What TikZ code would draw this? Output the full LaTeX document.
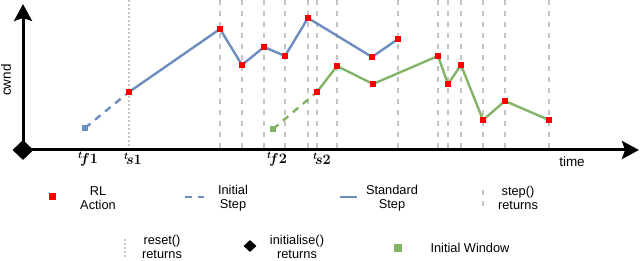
\documentclass[tikz,border=0pt]{standalone}
\usepackage{fontspec}
\setmainfont{Liberation Sans}
\usetikzlibrary{arrows.meta,shapes.geometric}
\definecolor{cblue}{HTML}{6C8EBF}
\definecolor{cgreen}{HTML}{82B366}
\definecolor{cgray}{HTML}{C4C4C4}
\definecolor{cdot}{HTML}{C8C8C8}
\begin{document}
\begin{tikzpicture}[x=1pt,y=-1pt,
  steptick/.style={cgray, line width=2.2pt, dash pattern=on 5pt off 6pt},
  resettick/.style={cdot, line width=2pt, dash pattern=on 2pt off 2pt},
  act/.style={rectangle, fill=red, minimum size=6.5pt, inner sep=0pt, draw=none},
  bstart/.style={rectangle, fill=cblue, minimum size=5.5pt, inner sep=0pt, draw=none},
  gstart/.style={rectangle, fill=cgreen, minimum size=5.5pt, inner sep=0pt, draw=none},
  bline/.style={cblue, line width=2.4pt},
  gline/.style={cgreen, line width=2.4pt},
  bdash/.style={cblue, line width=2.4pt, dash pattern=on 7pt off 6pt},
  gdash/.style={cgreen, line width=2.4pt, dash pattern=on 7pt off 6pt},
  axis/.style={line width=3pt, -{Stealth[length=17pt,width=18pt,inset=3pt]}},
  lbl/.style={font=\fontsize{12.8}{14.5}\selectfont, align=center, inner sep=0pt},
  tl/.style={font=\fontsize{14}{14}\selectfont\boldmath, inner sep=0pt},
  odiam/.style={diamond, fill=black, inner sep=0pt},
]
\useasboundingbox (0,0) rectangle (640,261);

% vertical step() lines
\foreach \x in {220,242,264,285,308,317,337,398,438,448,461,483,505,549}
  \draw[steptick] (\x,0) -- (\x,150);
% reset() line
\draw[resettick] (129,0) -- (129,150);

% axes
\coordinate (O) at (23,150);
\coordinate (ytip) at (23,4);
\coordinate (xtip) at (639,150);
\draw[axis] (O) -- (ytip);
\draw[axis] (O) -- (xtip);
\node[odiam, minimum width=21pt, minimum height=20pt] (orig) at (O) {};

% blue episode
\coordinate (b0) at (85,128);
\coordinate (b1) at (129,92);
\coordinate (b2) at (220,29);
\coordinate (b3) at (242,65);
\coordinate (b4) at (264,47);
\coordinate (b5) at (285,56);
\coordinate (b6) at (308,18);
\coordinate (b7) at (372,57);
\coordinate (b8) at (398,39);
\draw[bdash] (b0) -- (b1);
\draw[bline, line join=round] (b1) -- (b2) -- (b3) -- (b4) -- (b5) -- (b6) -- (b7) -- (b8);

% green episode
\coordinate (g0) at (273,129);
\coordinate (g1) at (317,92);
\coordinate (g2) at (337,66);
\coordinate (g3) at (373,84);
\coordinate (g4) at (438,56);
\coordinate (g5) at (448,84);
\coordinate (g6) at (461,65);
\coordinate (g7) at (483,120);
\coordinate (g8) at (505,101);
\coordinate (g9) at (549,120);
\draw[gdash] (g0) -- (g1);
\draw[gline, line join=round] (g1) -- (g2) -- (g3) -- (g4) -- (g5) -- (g6) -- (g7) -- (g8) -- (g9);

\node[bstart] (mb0) at (b0) {};
\node[gstart] (mg0) at (g0) {};
\foreach \p in {b1,b2,b3,b4,b5,b6,b7,b8,g1,g2,g3,g4,g5,g6,g7,g8,g9}
  \node[act] (m\p) at (\p) {};

% axis labels
\node[lbl, rotate=90, font=\fontsize{13.5}{15}\selectfont] (cwnd) at (6,80) {cwnd};
\node[lbl, font=\fontsize{13.5}{15}\selectfont] (time) at (572,162) {time};
\node[tl] (tf1) at (88,159) {$^{t}\!f1$};
\node[tl] (ts1) at (133,159) {$^{t}\!s1$};
\node[tl] (tf2) at (277,159) {$^{t}\!f2$};
\node[tl] (ts2) at (322,159) {$^{t}\!s2$};

% legend row 1
\node[act, minimum size=7pt] (lg1) at (52,197) {};
\node[lbl] (lt1) at (98,198) {RL\\Action};
\coordinate (ld1a) at (185,197);
\coordinate (ld1b) at (204,197);
\draw[cblue, line width=2.4pt, dash pattern=on 6.5pt off 6pt] (ld1a) -- (ld1b);
\node[lbl] (lt2) at (233,198) {Initial\\Step};
\coordinate (ls1a) at (340,197);
\coordinate (ls1b) at (357,197);
\draw[bline] (ls1a) -- (ls1b);
\node[lbl] (lt3) at (392,198) {Standard\\Step};
\coordinate (lst1) at (483,190);
\coordinate (lst2) at (483,206);
\draw[steptick, line width=1.3pt] (lst1) -- (lst2);
\node[lbl] (lt4) at (518,198) {step()\\returns};

% legend row 2
\coordinate (lr1) at (125,239);
\coordinate (lr2) at (125,257);
\draw[resettick] (lr1) -- (lr2);
\node[lbl] (lt5) at (162,247) {reset()\\returns};
\node[odiam, minimum width=13pt, minimum height=12pt] (lg2) at (250,246) {};
\node[lbl] (lt6) at (297,247) {initialise()\\returns};
\node[gstart, minimum size=7.5pt] (lg3) at (398,248) {};
\node[lbl] (lt7) at (470,248) {Initial Window};
\end{tikzpicture}
\end{document}
